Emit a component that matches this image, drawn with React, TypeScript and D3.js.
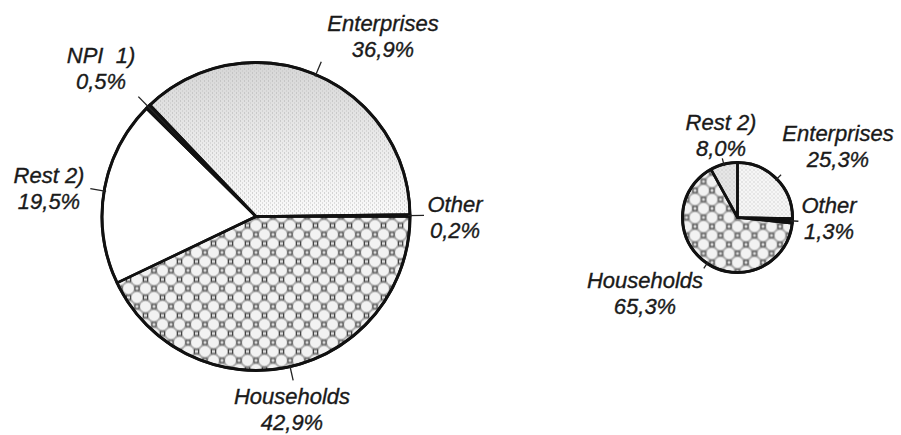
import React from "react";
import * as d3 from "d3";

// ---- data ----
const leftCategories = ["Households", "Rest 2)", "NPI  1)", "Enterprises", "Other"];
const leftValues = [42.9, 19.5, 0.5, 36.9, 0.2];

const rightCategories = ["Enterprises", "Other", "Households", "Rest 2)"];
const rightValues = [25.3, 1.3, 65.3, 8.0];

// ---- layout (not data) ----
const W = 901;
const H = 435;

const leftPie = { cx: 256, cy: 216.5, r: 154, start: Math.PI / 2, tick: 14 };
const rightPie = { cx: 737.5, cy: 217.5, r: 55, start: 0, tick: 6 };

const leftLabelPos: Record<string, [number, number]> = {
  Enterprises: [383, 31],
  "NPI  1)": [101, 63],
  "Rest 2)": [49, 183],
  Other: [455, 212],
  Households: [292, 404],
};
const rightLabelPos: Record<string, [number, number]> = {
  "Rest 2)": [721, 130],
  Enterprises: [838, 141],
  Other: [829, 213],
  Households: [645, 288],
};

const leftFills: Record<string, string> = {
  Households: "url(#hh)",
  "Rest 2)": "#ffffff",
  "NPI  1)": "#222222",
  Enterprises: "url(#entGrad)",
  Other: "#111111",
};
const rightFills: Record<string, string> = {
  Households: "url(#hh)",
  "Rest 2)": "#e6e6e6",
  Enterprises: "#f6f6f6",
  Other: "#111111",
};

const fmt = (v: number) => d3.format(".1f")(v).replace(".", ",") + "%";

function Pie({
  cats,
  vals,
  cfg,
  fills,
  labelPos,
  stippleOn,
}: {
  cats: string[];
  vals: number[];
  cfg: { cx: number; cy: number; r: number; start: number; tick: number };
  fills: Record<string, string>;
  labelPos: Record<string, [number, number]>;
  stippleOn: string[];
}) {
  const data = cats.map((c, i) => ({ c, v: vals[i] }));
  const arcs = d3
    .pie<{ c: string; v: number }>()
    .sort(null)
    .value((d) => d.v)
    .startAngle(cfg.start)
    .endAngle(cfg.start + 2 * Math.PI)(data);
  const arc = d3
    .arc<d3.PieArcDatum<{ c: string; v: number }>>()
    .innerRadius(0)
    .outerRadius(cfg.r);
  return (
    <g>
      <g transform={`translate(${cfg.cx},${cfg.cy})`}>
        {arcs.map((a, i) => (
          <path key={"f" + i} d={arc(a) || ""} fill={fills[a.data.c]} stroke="none" />
        ))}
        {arcs
          .filter((a) => stippleOn.includes(a.data.c))
          .map((a, i) => (
            <path key={"s" + i} d={arc(a) || ""} fill="url(#stipple)" stroke="none" />
          ))}
        {arcs.map((a, i) => (
          <path
            key={"b" + i}
            d={arc(a) || ""}
            fill="none"
            stroke="#111"
            strokeWidth={2.6}
            strokeLinejoin="round"
          />
        ))}
        <circle r={cfg.r} fill="none" stroke="#111" strokeWidth={3} />
        {arcs.map((a, i) => {
          const m = (a.startAngle + a.endAngle) / 2;
          const r0 = cfg.r - 2;
          const r1 = cfg.r + cfg.tick;
          return (
            <line
              key={"t" + i}
              x1={r0 * Math.sin(m)}
              y1={-r0 * Math.cos(m)}
              x2={r1 * Math.sin(m)}
              y2={-r1 * Math.cos(m)}
              stroke="#222"
              strokeWidth={1.3}
            />
          );
        })}
      </g>
      {arcs.map((a, i) => {
        const p = labelPos[a.data.c];
        return (
          <text
            key={"l" + i}
            x={p[0]}
            y={p[1]}
            textAnchor="middle"
            fontFamily="'Liberation Sans', Arial, sans-serif"
            fontStyle="italic"
            fontSize={22}
            fill="#1a1a1a"
            stroke="#1a1a1a"
            strokeWidth={0.35}
            style={{ whiteSpace: "pre" }}
          >
            <tspan x={p[0]}>{a.data.c}</tspan>
            <tspan x={p[0]} dy={26}>
              {fmt(a.data.v)}
            </tspan>
          </text>
        );
      })}
    </g>
  );
}

export default function App() {
  return (
    <svg
      width={W}
      height={H}
      style={{ position: "absolute", left: 0, top: 0, background: "#fff", display: "block" }}
    >
      <defs>
        <linearGradient id="entGrad" x1="0" y1="0" x2="0" y2="1">
          <stop offset="0" stopColor="#d6d6d6" />
          <stop offset="0.55" stopColor="#ebebeb" />
          <stop offset="1" stopColor="#fafafa" />
        </linearGradient>
        <pattern id="stipple" width={4} height={4} patternUnits="userSpaceOnUse">
          <rect x={0} y={0} width={1} height={1} fill="#b0b0b0" />
          <rect x={2} y={2} width={1} height={1} fill="#c4c4c4" />
        </pattern>
        <pattern id="hh" width={17} height={18} patternUnits="userSpaceOnUse">
          <rect width={17} height={18} fill="#a8a8a8" />
          {[
            [8.5, 0],
            [0, 9],
            [17, 9],
            [8.5, 18],
          ].map(([x, y], i) => (
            <circle key={"c" + i} cx={x} cy={y} r={5.4} fill="#f2f2f2" />
          ))}
          {[
            [0, 0],
            [17, 0],
            [8.5, 9],
            [0, 18],
            [17, 18],
          ].map(([x, y], i) => (
            <rect
              key={"q" + i}
              x={x - 2}
              y={y - 2}
              width={4}
              height={4}
              fill="#dcdcdc"
              stroke="#444"
              strokeWidth={1}
            />
          ))}
        </pattern>
      </defs>
      <rect width={W} height={H} fill="#fff" />
      <Pie
        cats={leftCategories}
        vals={leftValues}
        cfg={leftPie}
        fills={leftFills}
        labelPos={leftLabelPos}
        stippleOn={["Enterprises"]}
      />
      <Pie
        cats={rightCategories}
        vals={rightValues}
        cfg={rightPie}
        fills={rightFills}
        labelPos={rightLabelPos}
        stippleOn={["Enterprises", "Rest 2)"]}
      />
    </svg>
  );
}
